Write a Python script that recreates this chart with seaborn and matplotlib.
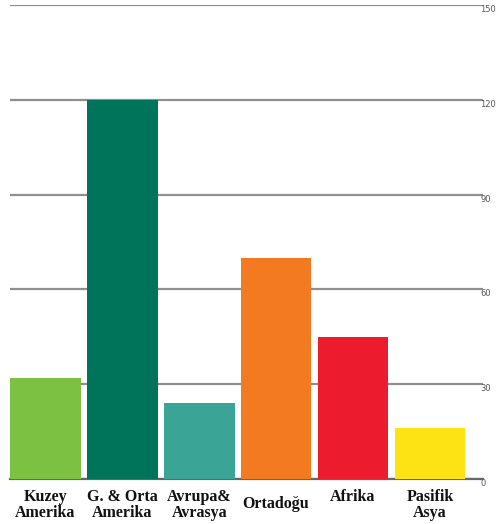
import matplotlib
matplotlib.use("Agg")
import matplotlib.pyplot as plt
import matplotlib.transforms as mtransforms
import seaborn as sns
import pandas as pd

categories = ["Kuzey\nAmerika", "G. & Orta\nAmerika", "Avrupa&\nAvrasya", "Ortadoğu", "Afrika", "Pasifik\nAsya"]
values = [32, 120, 24, 70, 45, 16]
colors = ["#7DC143", "#00745B", "#3AA597", "#F47A21", "#EC1C2E", "#FEE314"]
yticks = [0, 30, 60, 90, 120, 150]

df = pd.DataFrame({"region": categories, "value": values})

sns.set_style("white")
fig = plt.figure(figsize=(4.96, 5.24), dpi=100)
ax = fig.add_axes([10/496, 45/524, 473/496, 474/524])

sns.barplot(data=df, x="region", y="value", hue="region", palette=colors,
            legend=False, width=0.92, saturation=1, linewidth=0, ax=ax, zorder=3)

ax.set_xlim(-0.46, 5.69)
ax.set_ylim(0, 150)
ax.set_yticks(yticks)
ax.yaxis.tick_right()
ax.tick_params(axis="y", length=0, pad=-2, labelsize=6, labelcolor="#555555")
for lab in ax.get_yticklabels():
    lab.set_va("top")
ax.yaxis.grid(True, color="#8f8f8f", linewidth=1.6, zorder=0)
ax.set_axisbelow(True)
for s in ["left", "right", "top"]:
    ax.spines[s].set_visible(False)
ax.spines["bottom"].set_color("#666666")
ax.spines["bottom"].set_linewidth(1.6)
ax.set_xlabel("")
ax.set_ylabel("")

ax.tick_params(axis="x", length=0, pad=7)
ax.set_xticks(range(len(categories)))
ax.set_xticklabels(categories, fontfamily="Liberation Serif", fontweight="bold",
                   fontsize=11.5, color="#111111", linespacing=1.0)
for lab in ax.get_xticklabels():
    if lab.get_text() == "Ortadoğu":
        lab.set_transform(lab.get_transform() + mtransforms.ScaledTranslation(0, -5/72, fig.dpi_scale_trans))

fig.savefig("out.png", dpi=100)
